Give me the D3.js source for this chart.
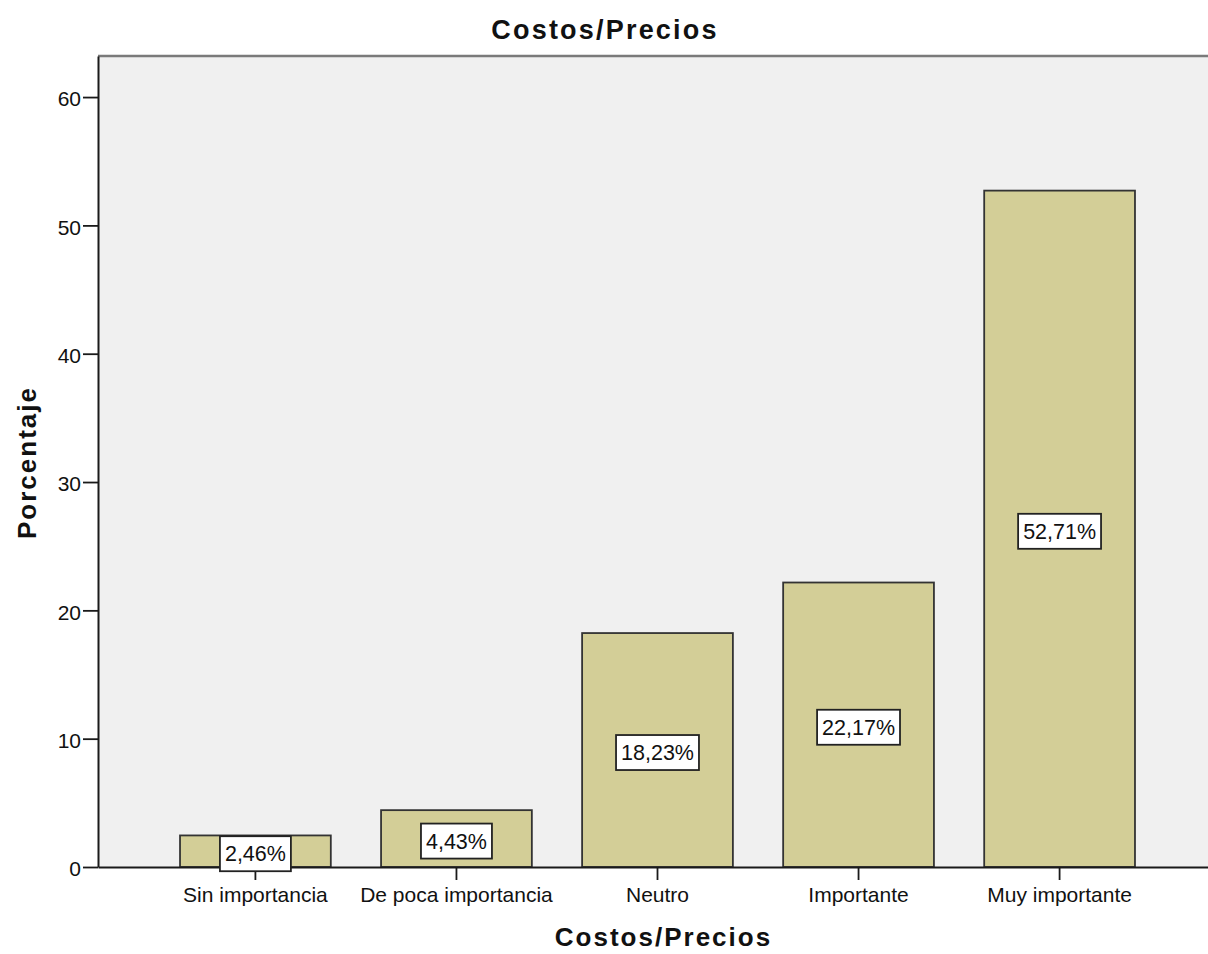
<!DOCTYPE html>
<html>
<head>
<meta charset="utf-8">
<script src="https://cdn.jsdelivr.net/npm/d3@7"></script>
<style>
  body { margin: 0; background: #fff; }
  svg { display: block; }
  text { font-family: "Liberation Sans", Arial, sans-serif; fill: #111; }
</style>
</head>
<body>
<svg id="chart" width="1208" height="954"></svg>
<script>
// Data: share of responses by importance level
const categories = ["Sin importancia", "De poca importancia", "Neutro", "Importante", "Muy importante"];
const percentages = [2.46, 4.43, 18.23, 22.17, 52.71];
const valueLabels = ["2,46%", "4,43%", "18,23%", "22,17%", "52,71%"];
const yTicks = [0, 10, 20, 30, 40, 50, 60];

const chartTitle = "Costos/Precios";
const xTitle = "Costos/Precios";
const yTitle = "Porcentaje";

const W = 1208, H = 954;
const plot = { left: 98, right: 1217, top: 56, bottom: 867 };

const svg = d3.select("#chart");

const x = d3.scaleBand()
  .domain(categories)
  .range([plot.left, plot.right])
  .paddingInner(0.25)
  .paddingOuter(0.408);

const y = d3.scaleLinear()
  .domain([0, 63.2])
  .range([plot.bottom, plot.top]);

// Plot background
svg.append("rect")
  .attr("x", plot.left).attr("y", plot.top)
  .attr("width", plot.right - plot.left).attr("height", plot.bottom - plot.top)
  .attr("fill", "#f0f0f0");

// Top frame line
svg.append("line")
  .attr("x1", plot.left).attr("x2", plot.right)
  .attr("y1", plot.top).attr("y2", plot.top)
  .attr("stroke", "#7a7a7a").attr("stroke-width", 2.5);

// Bars
svg.append("g").selectAll("rect")
  .data(percentages)
  .join("rect")
  .attr("x", (d, i) => x(categories[i]))
  .attr("y", d => y(d))
  .attr("width", x.bandwidth())
  .attr("height", d => y(0) - y(d))
  .attr("fill", "#d3ce97")
  .attr("stroke", "#333")
  .attr("stroke-width", 1.8);

// Y axis
const yAxis = svg.append("g")
  .attr("transform", `translate(${plot.left},0)`)
  .call(d3.axisLeft(y).tickValues(yTicks).tickSize(15).tickSizeOuter(0).tickPadding(2).tickFormat(d3.format("d")));
yAxis.select(".domain").attr("stroke", "#1a1a1a").attr("stroke-width", 2);
yAxis.selectAll(".tick line").attr("stroke", "#1a1a1a").attr("stroke-width", 1.8);
yAxis.selectAll(".tick text")
  .attr("font-size", 21).attr("fill", "#111")
  .attr("font-family", "Liberation Sans, Arial, sans-serif")
  .attr("dy", "0.42em");

// X axis
const xAxis = svg.append("g")
  .attr("transform", `translate(0,${plot.bottom})`)
  .call(d3.axisBottom(x).tickSize(13).tickPadding(0).tickSizeOuter(0));
xAxis.select(".domain").attr("stroke", "#1a1a1a").attr("stroke-width", 2);
xAxis.selectAll(".tick line").attr("stroke", "#1a1a1a").attr("stroke-width", 1.8);
xAxis.selectAll(".tick text")
  .attr("font-size", 21).attr("fill", "#111")
  .attr("font-family", "Liberation Sans, Arial, sans-serif")
  .attr("y", 35).attr("dy", 0);

// Value labels in boxes at mid-height of each bar
const labels = svg.append("g").selectAll("g")
  .data(percentages)
  .join("g")
  .attr("transform", (d, i) => `translate(${x(categories[i]) + x.bandwidth() / 2},${y(d / 2) + 2.5})`);

labels.each(function (d, i) {
  const g = d3.select(this);
  const box = g.append("rect");
  const t = g.append("text")
    .attr("text-anchor", "middle")
    .attr("dy", "0.36em")
    .attr("font-size", 21.5)
    .text(valueLabels[i]);
  const w = t.node().getComputedTextLength() + 10;
  const h = 35;
  box.attr("x", -w / 2).attr("y", -h / 2)
    .attr("width", w).attr("height", h)
    .attr("fill", "#fff")
    .attr("stroke", "#222")
    .attr("stroke-width", 1.8);
});

// Titles
svg.append("text")
  .attr("x", W / 2 + 1).attr("y", 39)
  .attr("text-anchor", "middle")
  .attr("font-size", 27).attr("font-weight", "bold")
  .attr("letter-spacing", 2.2)
  .text(chartTitle);

svg.append("text")
  .attr("x", (plot.left + plot.right) / 2 + 6).attr("y", 946)
  .attr("text-anchor", "middle")
  .attr("font-size", 26).attr("font-weight", "bold")
  .attr("letter-spacing", 2)
  .text(xTitle);

svg.append("text")
  .attr("transform", `translate(36,${(plot.top + plot.bottom) / 2 + 1}) rotate(-90)`)
  .attr("text-anchor", "middle")
  .attr("font-size", 26).attr("font-weight", "bold")
  .attr("letter-spacing", 2)
  .text(yTitle);
</script>
</body>
</html>
